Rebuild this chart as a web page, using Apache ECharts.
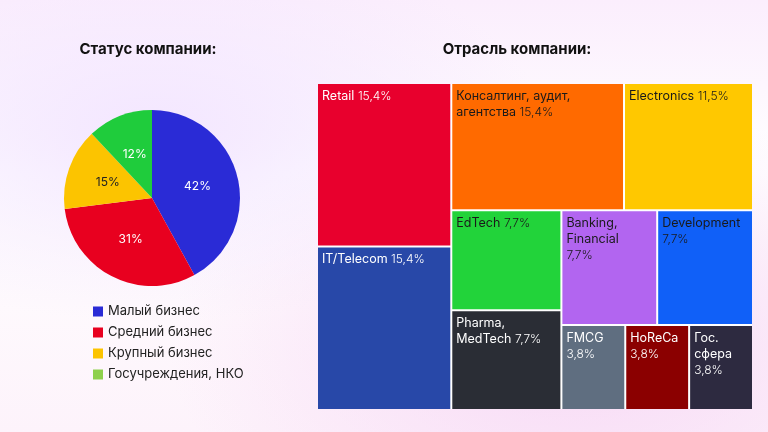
<!DOCTYPE html><html><head><meta charset="utf-8">
<script src="https://cdn.jsdelivr.net/npm/echarts@6/dist/echarts.min.js"></script>
<style>html,body{margin:0;width:768px;height:432px;overflow:hidden}
#c{width:768px;height:432px;background:radial-gradient(ellipse at 20% 30%,#f3e6ff 0%,rgba(255,255,255,0) 45%),radial-gradient(ellipse at 75% 80%,#f7d9f5 0%,rgba(255,255,255,0) 50%),linear-gradient(180deg,#fbeefd 0%,#ffffff 40%,#fdf3fb 100%)}</style>
</head><body><div id="c"></div><script>
const statusNames=['Малый бизнес','Средний бизнес','Крупный бизнес','Госучреждения, НКО'];
const statusValues=[42,31,15,12];
const statusColors=['#2a2bd6','#e8001f','#fcc400','#1fcc3c'];
const legendColors=['#2a2bd6','#e8001f','#fcc400','#8ed04c'];
const leftNames=['Retail','IT/Telecom'];
const leftValues=[15.4,15.4];
const leftLabels=['15,4%','15,4%'];
const leftColors=['#e8002d','#2848a8'];
const rightNames=['Консалтинг, аудит,\nагентства','Electronics','EdTech','Pharma,\nMedTech','Banking,\nFinancial','Development','FMCG','HoReCa','Гос.\nсфера'];
const rightValues=[15.4,11.5,7.7,7.7,7.7,7.7,3.8,3.8,3.8];
const rightLabels=['15,4%','11,5%','7,7%','7,7%','7,7%','7,7%','3,8%','3,8%','3,8%'];
const rightSeps=[' ',' ',' ',' ','\n','\n','\n','\n','\n'];
const rightColors=['#ff6a00','#ffc800','#22d33a','#2a2d35','#b265f0','#1060f8','#5f6e80','#8b0000','#2d2a40'];
const darkText=[true,true,true,false,true,true,false,false,false];
const ch=echarts.init(document.getElementById('c'));
function mk(n,v,l,c,dark,sep){return {name:n,value:v,pct:l,sep:sep,itemStyle:{color:c},label:{color:dark?'#1a1a1a':'#fff'}};}
const left=leftNames.map((n,i)=>mk(n,leftValues[i],leftLabels[i],leftColors[i],false,' '));
const right=rightNames.map((n,i)=>mk(n,rightValues[i],rightLabels[i],rightColors[i],darkText[i],rightSeps[i]));
ch.setOption({
 textStyle:{fontFamily:'Inter'},
 title:[{text:'Статус компании:',left:143,top:37,textAlign:'center',textStyle:{fontSize:15,fontWeight:'bold',color:'#111',fontFamily:'Inter'}},
 {text:'Отрасль компании:',left:512,top:37,textAlign:'center',textStyle:{fontSize:15,fontWeight:'bold',color:'#111',fontFamily:'Inter'}}],
 legend:{left:88,top:300,orient:'vertical',itemWidth:10,itemHeight:10,itemGap:8,icon:'rect',
   textStyle:{fontSize:13,color:'#222',fontFamily:'Inter'},
   data:statusNames.map((n,i)=>({name:n,itemStyle:{color:legendColors[i]}}))},
 series:[{type:'pie',center:[152,198],radius:[0,88],startAngle:90,clockwise:true,
   label:{position:'inside',formatter:'{c}%',color:'#fff',fontSize:12,fontFamily:'Inter'},
   labelLine:{show:false},
   data:statusNames.map((n,i)=>({name:n,value:statusValues[i],itemStyle:{color:statusColors[i]},label:{color:i==2?'#222':'#fff'}}))},
 {type:'treemap',left:318,top:84,width:434,height:325,roam:false,nodeClick:false,breadcrumb:{show:false},
   sort:false,squareRatio:1,
   itemStyle:{borderWidth:0,gapWidth:2,borderColor:'#fff'},
   levels:[{itemStyle:{gapWidth:2,borderWidth:0}},{itemStyle:{gapWidth:2,borderWidth:0}},{itemStyle:{gapWidth:2}}],
   upperLabel:{show:false},
   label:{show:true,position:'insideTopLeft',padding:[4,4],fontSize:12.5,lineHeight:16,fontFamily:'Inter',
     formatter:p=>p.data.name+(p.data.sep||' ')+'{p|'+p.data.pct+'}',rich:{p:{fontSize:12,fontWeight:300,lineHeight:16}}},
   data:[{name:'A',value:30.8,children:left},{name:'B',value:69.2,children:right}]}]
});
</script></body></html>
